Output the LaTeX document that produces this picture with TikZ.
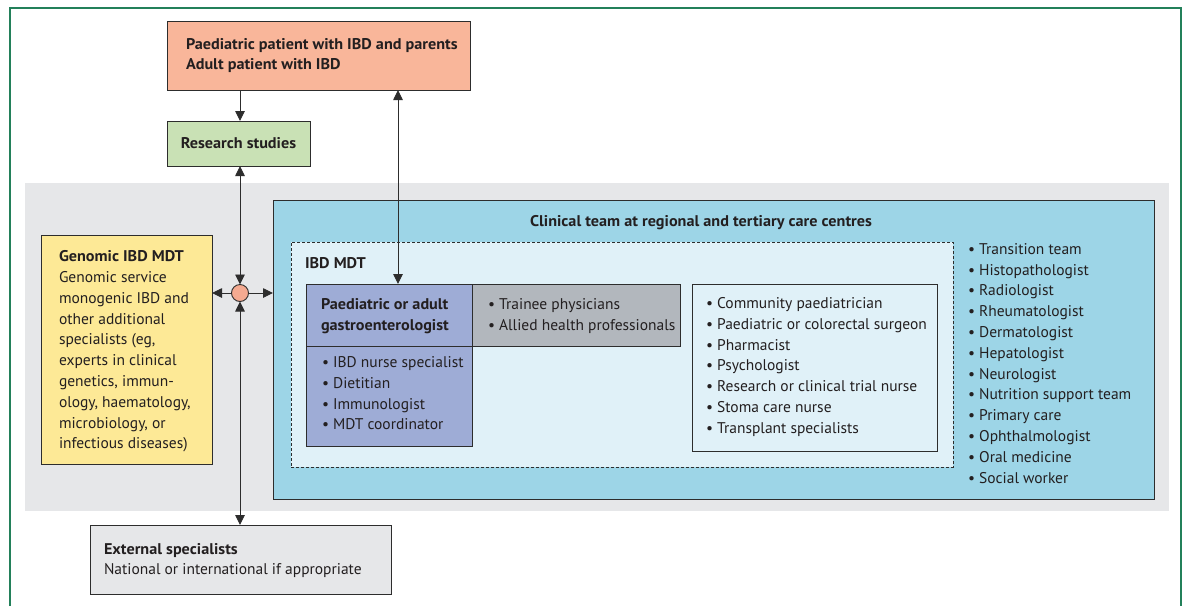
\documentclass[tikz,border=0pt]{standalone}
\usepackage{fontspec}
\setmainfont{PT Sans}[BoldFeatures={FakeStretch=1.045}]
\usetikzlibrary{arrows.meta}
\definecolor{framec}{RGB}{35,128,90}
\definecolor{linec}{RGB}{45,45,45}
\definecolor{txtc}{RGB}{35,31,32}
\definecolor{pinkc}{RGB}{249,182,154}
\definecolor{greenc}{RGB}{201,225,181}
\definecolor{regionc}{RGB}{230,231,233}
\definecolor{yellowc}{RGB}{253,233,150}
\definecolor{bluec}{RGB}{157,213,231}
\definecolor{lightbluec}{RGB}{224,241,248}
\definecolor{gastroc}{RGB}{158,172,214}
\definecolor{traineec}{RGB}{178,183,189}
\definecolor{circc}{RGB}{244,170,145}
\newcommand{\fs}{\fontsize{15.5}{20.8}\selectfont}
\tikzset{
  box/.style={draw=linec, line width=0.9pt, inner sep=0pt, outer sep=0pt, anchor=north west},
  area/.style={inner sep=0pt, outer sep=0pt, anchor=north west},
  txt/.style={inner sep=0pt, outer sep=0pt, anchor=west, align=left, font=\fs, text=txtc},
  btxt/.style={txt, font=\fs\bfseries},
  tip/.tip={Triangle[length=10pt,width=9.5pt]},
  arr/.style={draw=linec, line width=0.9pt, -tip},
  arrb/.style={draw=linec, line width=0.9pt, tip-tip},
}
\begin{document}
\begin{tikzpicture}[x=1pt,y=-1pt]
\useasboundingbox (0,0) rectangle (1184,606);
\fill[white] (0,0) rectangle (1184,606);
\draw[framec, line width=1.2pt] (10,606) -- (10,8) -- (1181,8) -- (1181,606);

% grey region
\node[area, fill=regionc, minimum width=1144pt, minimum height=328pt] (region) at (25,183) {};

% boxes
\node[box, fill=pinkc, minimum width=303pt, minimum height=69pt] (patient) at (167,21) {};
\node[box, fill=greenc, minimum width=143pt, minimum height=45pt] (research) at (167,121) {};
\node[box, fill=yellowc, minimum width=171pt, minimum height=229pt] (genomic) at (41,235) {};
\node[box, fill=bluec, minimum width=881pt, minimum height=299pt] (clinical) at (273,200) {};
\node[box, fill=lightbluec, dash pattern=on 3pt off 2pt, minimum width=662pt, minimum height=225pt] (mdt) at (291,242) {};
\node[box, fill=gastroc, minimum width=166pt, minimum height=62pt] (gastrotop) at (306,284) {};
\node[box, fill=gastroc, minimum width=166pt, minimum height=100pt] (gastrobot) at (306,346) {};
\node[box, fill=traineec, minimum width=208pt, minimum height=62pt] (trainee) at (472,284) {};
\node[box, fill=lightbluec, minimum width=245pt, minimum height=167pt] (others) at (692,284) {};
\node[box, fill=regionc, minimum width=301pt, minimum height=69pt] (external) at (90,525) {};
\node[circle, draw=linec, line width=0.9pt, fill=circc, minimum size=17pt, inner sep=0pt, outer sep=0pt] (hub) at (240,293) {};

% texts
\node[btxt] (patientT) at (186,55.5) {Paediatric patient with IBD and parents\\Adult patient with IBD};
\node[btxt, anchor=center] (researchT) at (research.center) {Research studies};
\node[txt] (genomicT) at (59,351.4) {\textbf{Genomic IBD MDT}\\Genomic service\\monogenic IBD and\\other additional\\specialists (eg,\\experts in clinical\\genetics, immun-\\ology, haematology,\\microbiology, or\\infectious diseases)};
\node[btxt, anchor=center] (clinicalT) at (701,223) {Clinical team at regional and tertiary care centres};
\node[btxt] (mdtT) at (305,263) {IBD MDT};
\node[btxt] (gastroT) at (321,316) {Paediatric or adult\\gastroenterologist};
\node[txt] (gastroL) at (322,393.2) {• IBD nurse specialist\\• Dietitian\\• Immunologist\\• MDT coordinator};
\node[txt] (traineeL) at (488,316) {• Trainee physicians\\• Allied health professionals};
\node[txt] (othersL) at (706,367) {• Community paediatrician\\• Paediatric or colorectal surgeon\\• Pharmacist\\• Psychologist\\• Research or clinical trial nurse\\• Stoma care nurse\\• Transplant specialists};
\node[txt] (rightL) at (968,363.3) {• Transition team\\• Histopathologist\\• Radiologist\\• Rheumatologist\\• Dermatologist\\• Hepatologist\\• Neurologist\\• Nutrition support team\\• Primary care\\• Ophthalmologist\\• Oral medicine\\• Social worker};
\node[txt] (externalT) at (104,560.5) {\textbf{External specialists}\\National or international if appropriate};

% connectors
\coordinate (ax) at (398,0);
\draw[arr] (hub |- patient.south) -- (hub |- research.north);
\draw[arrb] (ax |- patient.south) -- (ax |- gastrotop.north);
\draw[arrb] (hub |- research.south) -- (hub.north);
\draw[arrb] (hub.south) -- (hub |- external.north);
\draw[arr] (hub.west) -- (hub -| genomic.east);
\draw[arr] (hub.east) -- (hub -| clinical.west);
\end{tikzpicture}
\end{document}
